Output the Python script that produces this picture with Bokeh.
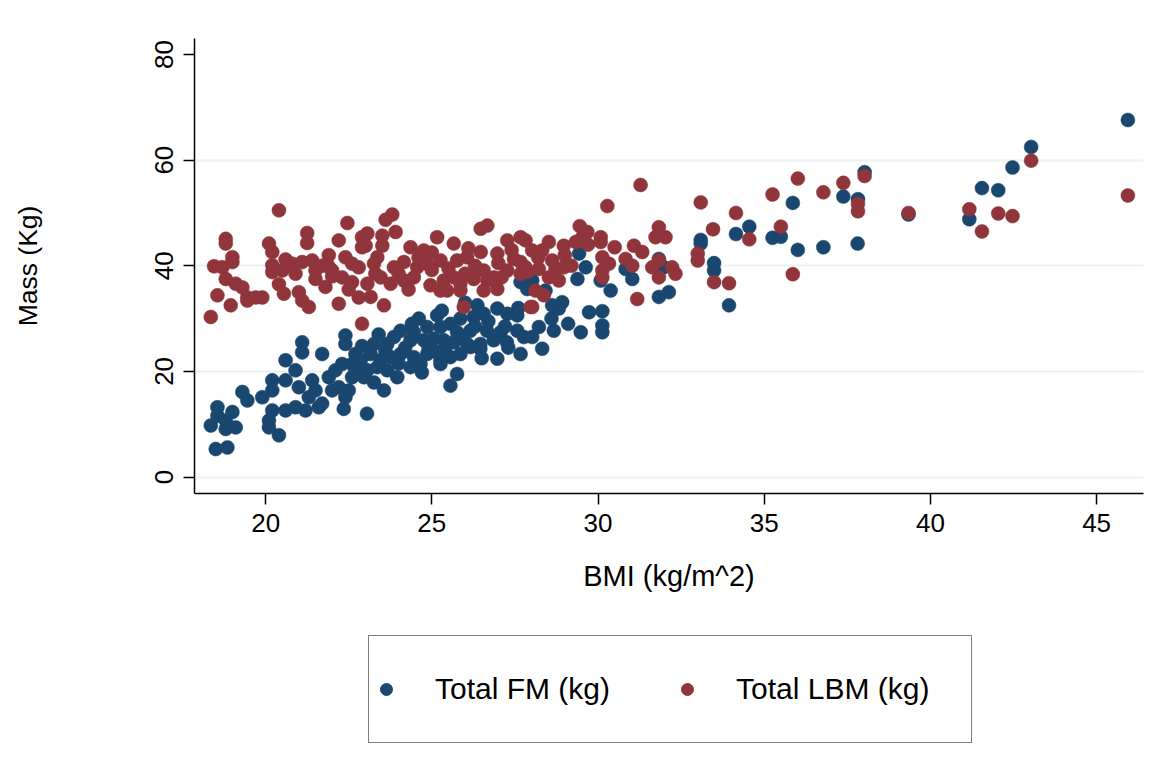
from bokeh.plotting import figure
from bokeh.models import ColumnDataSource, Legend, LegendItem, FixedTicker, Range1d
from bokeh.layouts import column
from bokeh.embed import file_html
from bokeh.resources import INLINE

# ---- data (BMI kg/m^2, mass kg) ----
fm_bmi = [45.94, 43.03, 42.47, 41.55, 42.04, 41.17, 39.34, 38.02, 37.82, 37.38, 37.81, 36.78, 35.86, 36.01,
          35.25, 35.5, 34.55, 34.15, 33.09, 33.09, 33.49, 33.49, 33.94,
          31.83, 31.98, 32.13, 31.83, 30.83, 31.03, 29.43, 29.63, 29.38, 30.08, 30.38, 29.73, 30.13, 30.13,
          30.13, 29.48, 28.92, 28.82, 28.62, 28.67, 28.32, 28.22, 28.02, 27.82, 28.02, 28.42,
          27.67, 27.87, 26.37, 26.56, 26.26, 26.97, 27.27, 27.57, 24.61, 25.16, 25.86, 25.56, 24.06, 24.46,
          24.86, 25.26, 25.76, 26.16, 26.66, 27.07, 27.57, 27.77, 23.26, 23.66, 23.86, 24.36, 24.76, 25.06,
          25.36, 25.66, 26.06, 26.46, 26.86, 27.26, 23.16, 23.46, 23.76, 24.06, 24.46, 24.86, 25.26, 25.56,
          25.86, 26.16, 26.46, 22.86, 23.06, 23.36, 23.66, 23.96, 24.36, 24.66, 25.26, 25.76, 26.97, 27.67,
          22.96, 23.26, 23.56, 25.56,
          21.1, 21.1, 21.7, 22.4, 22.4, 20.6, 20.9, 20.6, 20.2, 20.2, 21.0, 21.4, 21.5, 21.3, 21.2, 20.9,
          20.6, 20.2, 20.1, 20.1, 20.4, 21.6, 21.7, 19.3, 19.45, 19.9, 18.55, 18.55, 19.0, 18.35, 18.8, 18.8,
          19.1, 18.5, 18.85, 21.9, 22.1, 22.2, 22.3, 22.6, 22.6, 22.7, 22.8, 22.4, 22.5, 22.7, 22.9, 22.35,
          22.0, 23.05,
          24.2, 24.9, 25.4, 25.9, 26.3, 26.7, 27.2, 27.6, 24.4, 25.3, 26.0, 24.0, 24.7, 25.1, 23.6, 22.9,
          23.4, 28.6, 29.1, 26.5, 27.3]
fm_mass = [67.6, 62.5, 58.6, 54.7, 54.3, 48.8, 49.7, 57.7, 52.6, 53.1, 44.2, 43.5, 51.9, 43.0,
           45.3, 45.5, 47.4, 46.0, 44.9, 44.2, 40.5, 39.1, 32.5,
           41.3, 39.7, 35.0, 34.1, 39.4, 37.5, 42.3, 39.7, 37.5, 37.2, 35.3, 31.2, 31.4, 28.7,
           27.4, 27.4, 33.1, 31.9, 32.5, 27.7, 24.3, 28.4, 26.5, 36.6, 37.2, 35.3,
           36.9, 35.6, 32.5, 30.9, 30.3, 31.9, 30.9, 30.6, 30.0, 30.6, 30.0, 29.0, 27.7, 27.4,
           28.4, 28.4, 27.4, 27.7, 27.7, 27.4, 27.7, 26.5, 25.2, 25.2, 26.5, 25.9, 25.9, 26.2,
           25.9, 25.5, 25.2, 25.2, 25.9, 25.5, 23.3, 22.1, 22.7, 23.3, 22.7, 23.3, 22.1, 22.7,
           23.3, 24.6, 24.3, 22.1, 20.2, 20.8, 20.2, 18.9, 20.8, 21.4, 21.4, 19.5, 22.4, 23.3,
           18.9, 17.9, 16.4, 17.3,
           25.5, 23.6, 23.3, 26.8, 25.2, 22.1, 20.2, 18.3, 18.3, 16.4, 17.0, 18.3, 16.4, 15.1, 12.6, 13.2,
           12.6, 12.6, 10.7, 9.4, 7.9, 13.2, 13.9, 16.1, 14.5, 15.1, 13.2, 11.6, 12.3, 9.75, 10.7, 9.1,
           9.4, 5.3, 5.6, 18.9, 20.2, 17.0, 21.4, 21.4, 18.9, 23.3, 22.1, 15.1, 16.4, 20.2, 20.2, 12.9,
           16.4, 12.0,
           24.5, 24.5, 24.0, 26.5, 28.5, 29.5, 28.5, 32.0, 29.0, 31.5, 33.0, 21.5, 19.8, 23.8, 24.0, 24.8,
           27.0, 30.0, 29.0, 22.5, 24.5]

lbm_bmi = [45.94, 43.03, 42.47, 42.04, 41.55, 41.17, 39.34, 38.02, 37.82, 37.82, 37.38, 36.78, 36.01, 35.25,
           35.5, 35.86, 34.15, 34.55, 33.46, 33.09, 33.0, 33.0, 33.49, 33.94,
           31.28, 30.28, 29.45, 29.68, 30.08, 30.08, 31.83, 32.03, 31.73, 31.08, 31.33, 30.83, 31.03, 30.13,
           30.33, 30.13, 30.13, 31.83, 31.63, 31.83, 32.23, 32.33, 31.18, 27.82, 28.02, 28.32, 28.52, 28.97,
           29.33, 29.53, 27.82, 28.22, 28.62, 28.72, 28.97, 28.52, 28.82, 28.12, 28.37, 28.02,
           23.81, 23.61, 23.06, 23.51, 23.91, 23.01, 23.51, 24.36, 25.16, 25.66, 24.76, 26.47, 26.67, 27.27,
           27.67, 23.36, 23.26, 23.86, 24.16, 24.56, 24.86, 25.26, 25.76, 26.06, 26.47, 26.97, 27.47, 27.67,
           23.46, 23.06, 23.76, 24.16, 24.46, 24.96, 25.36, 25.66, 25.86, 26.26, 26.56, 26.67, 26.87, 26.97,
           27.27, 27.67, 27.87, 23.16, 23.56, 25.86, 25.96, 26.56, 27.97, 25.26, 25.46,
           20.4, 22.46, 18.8, 18.8, 21.25, 21.25, 20.1, 20.2, 22.2, 22.9, 22.9, 18.45, 18.7, 19.0, 19.0,
           20.2, 20.2, 20.5, 20.8, 21.1, 20.9, 21.4, 21.5, 21.9, 22.0, 22.4, 22.6, 22.8, 22.3, 22.6,
           18.8, 19.1, 19.3, 19.45, 19.45, 19.9, 18.55, 18.95, 18.35, 20.55, 21.0, 21.1, 21.3, 22.2, 22.8, 22.9,
           21.5, 21.8, 22.0, 20.4, 19.7, 21.7, 24.0, 24.6, 25.0, 25.5, 26.0, 26.3, 27.0, 27.4, 28.2, 29.0,
           29.7, 30.5, 29.2, 24.3, 25.0, 22.5, 23.3, 26.1, 27.1, 20.6, 21.9]
lbm_mass = [53.3, 59.9, 49.4, 49.9, 46.5, 50.7, 50.0, 57.0, 51.7, 50.3, 55.7, 53.9, 56.5, 53.5,
            47.4, 38.4, 50.0, 45.0, 46.9, 52.0, 42.3, 41.0, 36.9, 36.7,
            55.3, 51.3, 47.5, 46.4, 45.4, 44.5, 47.3, 45.4, 45.4, 43.8, 42.6, 41.3, 40.0, 41.6,
            40.4, 39.1, 37.8, 41.0, 39.7, 37.8, 39.7, 38.5, 33.7, 44.8, 42.9, 42.9, 44.5, 43.8,
            44.5, 45.4, 39.7, 39.4, 41.0, 39.4, 39.7, 37.8, 37.2, 35.3, 34.4, 32.2,
            49.7, 48.7, 46.1, 45.7, 46.4, 43.8, 43.8, 43.5, 45.4, 44.2, 42.9, 47.0, 47.6, 44.8,
            45.4, 41.6, 40.4, 39.7, 40.7, 39.7, 40.4, 41.0, 41.0, 41.6, 42.6, 42.3, 41.3, 40.7,
            37.8, 36.6, 36.6, 37.2, 37.8, 36.3, 37.2, 37.8, 36.6, 37.5, 39.1, 37.2, 37.8, 35.6,
            39.1, 38.5, 38.8, 34.1, 32.5, 35.3, 32.2, 35.3, 32.2, 35.3, 35.3,
            50.5, 48.1, 45.1, 44.2, 46.2, 44.3, 44.2, 42.6, 44.8, 45.4, 43.5, 39.9, 39.7, 41.6, 40.7,
            40.1, 38.8, 39.1, 40.4, 40.7, 38.5, 41.0, 39.1, 42.0, 39.1, 41.6, 40.4, 39.7, 37.8, 36.9,
            37.5, 36.6, 35.9, 34.0, 33.4, 34.0, 34.4, 32.5, 30.3, 34.7, 35.0, 33.4, 32.2, 32.8, 34.0, 29.0,
            37.5, 36.0, 38.0, 36.5, 34.0, 40.0, 38.5, 41.5, 42.5, 39.5, 38.5, 40.0, 40.5, 43.0, 41.5, 42.0,
            44.0, 43.5, 40.0, 35.5, 39.2, 35.5, 38.5, 43.3, 37.8, 41.2, 39.8]

x_ticks = [20, 25, 30, 35, 40, 45]
y_ticks = [0, 20, 40, 60, 80]
y_grid = [0, 20, 40, 60]
series_names = ["Total FM (kg)", "Total LBM (kg)"]

BLUE = "#1a476f"
RED = "#90353b"
FONT = "Liberation Sans"
W = 1160
FRAME_LEFT = 194

p = figure(width=W, height=620, output_backend="svg", toolbar_location=None,
           x_range=Range1d(17.86, 46.41), y_range=Range1d(-3.12, 83.03),
           min_border_left=FRAME_LEFT, min_border_right=W - 1143, min_border_top=38, min_border_bottom=127)
p.outline_line_color = None
p.background_fill_color = "white"
p.border_fill_color = "white"

src_fm = ColumnDataSource(dict(x=fm_bmi, y=fm_mass))
src_lbm = ColumnDataSource(dict(x=lbm_bmi, y=lbm_mass))
p.scatter("x", "y", source=src_fm, size=14, fill_color=BLUE, line_color=BLUE, line_width=0.5)
p.scatter("x", "y", source=src_lbm, size=14, fill_color=RED, line_color=RED, line_width=0.5)

# axes
for ax in (p.xaxis[0], p.yaxis[0]):
    ax.axis_line_color = "black"
    ax.axis_line_width = 1.5
    ax.major_tick_line_color = "black"
    ax.major_tick_line_width = 1.5
    ax.major_tick_out = 11
    ax.major_tick_in = 0
    ax.minor_tick_line_color = None
    ax.major_label_text_font = FONT
    ax.major_label_text_color = "black"
    ax.major_label_text_font_size = "26px"
    ax.axis_label_text_font = FONT
    ax.axis_label_text_font_style = "normal"
    ax.axis_label_text_color = "black"

p.xaxis.ticker = FixedTicker(ticks=x_ticks)
p.yaxis.ticker = FixedTicker(ticks=y_ticks)
p.xaxis.axis_label = "BMI (kg/m^2)"
p.yaxis.axis_label = "Mass (Kg)"
p.xaxis.axis_label_text_font_size = "29px"
p.yaxis.axis_label_text_font_size = "26.5px"
p.xaxis.major_label_standoff = 9
p.xaxis.axis_label_standoff = 25
p.yaxis.major_label_orientation = "vertical"
p.yaxis.major_label_standoff = 10
p.yaxis.axis_label_standoff = 110

p.xgrid.grid_line_color = None
p.ygrid.ticker = FixedTicker(ticks=y_grid)
p.ygrid.grid_line_color = "#eaf2f3"
p.ygrid.grid_line_width = 2

# ---- legend panel (separate figure below the plot; its frame aligns with the plot's) ----
LH = 150
q = figure(width=W, height=LH, output_backend="svg", toolbar_location=None,
           x_range=Range1d(0, 1), y_range=Range1d(0, 1),
           x_axis_location=None, y_axis_location=None,
           min_border_left=0, min_border_right=0, min_border_top=0, min_border_bottom=0)
q.outline_line_color = None
q.xgrid.visible = False
q.ygrid.visible = False
q_fm = q.scatter(x=[-10], y=[-10], size=14, fill_color=BLUE, line_color=BLUE)
q_lbm = q.scatter(x=[-10], y=[-10], size=14, fill_color=RED, line_color=RED)

legend = Legend(items=[LegendItem(label=series_names[0], renderers=[q_fm], index=0),
                       LegendItem(label=series_names[1], renderers=[q_lbm], index=0)],
                orientation="horizontal", location=(368 - FRAME_LEFT, LH - 123),
                padding=2, spacing=4, glyph_width=30, glyph_height=30,
                label_standoff=34, label_width=233, label_height=102,
                label_text_font=FONT, label_text_font_size="30px", label_text_color="black",
                border_line_color="black", border_line_width=1.2, background_fill_color="white",
                background_fill_alpha=1.0, margin=0)
q.add_layout(legend, "center")

open("out.html", "w").write(file_html(column(p, q, spacing=0), INLINE))
